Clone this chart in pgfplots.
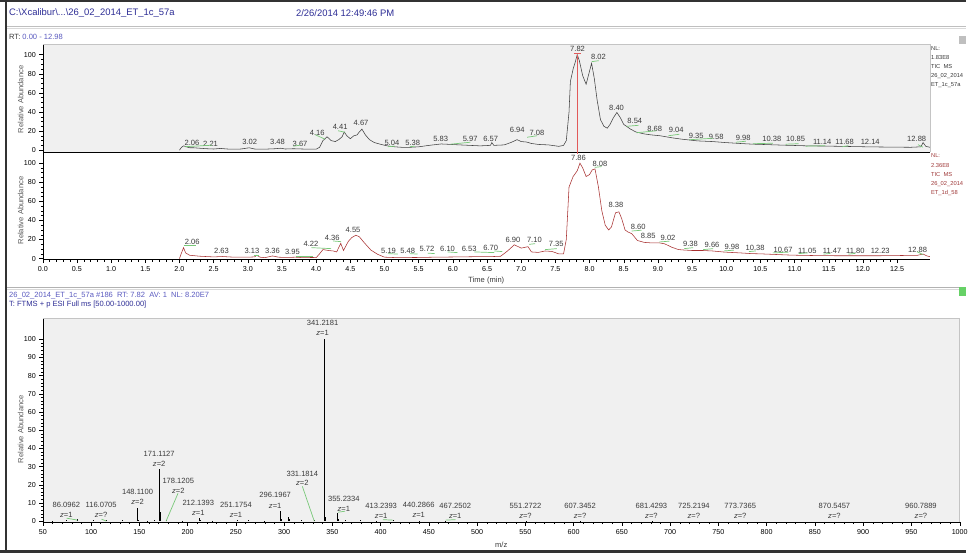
\documentclass[border=0pt]{standalone}
\usepackage{fontspec}
\setmainfont{Liberation Sans}
\usepackage{pgfplots}
\pgfplotsset{compat=1.18}
\definecolor{boxgray}{HTML}{F0F0F0}
\definecolor{boxedge}{HTML}{C4C4C4}
\definecolor{hdrblue}{HTML}{2E2E96}
\definecolor{rtblue}{HTML}{5A5AC0}
\definecolor{txtgray}{HTML}{3A3A3A}
\definecolor{ylgray}{HTML}{5A5A5A}
\definecolor{tracered}{HTML}{A83030}
\definecolor{markred}{HTML}{E25A5A}
\definecolor{lgreen}{HTML}{78C878}
\definecolor{nlred}{HTML}{A03A3A}
\newcommand\mytk{\fontsize{7.2}{8}\selectfont}
\newcommand\mylab{\fontsize{7.6}{8}\selectfont}
\newcommand\myyl{\fontsize{7.6}{8}\selectfont}
\newcommand\mynl{\fontsize{5.8}{6}\selectfont}
\newcommand\mypl[3]{\node[font=\mylab,text=txtgray,inner sep=0pt] at (axis cs:#1,#2) {#3};}
\newcommand\myspl[5]{\node[font=\mylab,text=txtgray,inner sep=0pt] at (axis cs:#1,#2) {#4};
  \node[font=\mylab,text=txtgray,inner sep=0pt] at (axis cs:#1,#3) {\textit{z}=#5};}
\newcommand\mygl[4]{\draw[lgreen,line width=0.7pt] (#1,-#2) -- (#3,-#4);}
\pgfplotsset{
  common/.style={anchor=south west, scale only axis, clip=false,
    axis x line*=bottom, axis y line*=left,
    axis line style={black,line width=0.5pt},
    tick style={black,line width=0.4pt},
    tick align=outside, major tick length=3.5pt, minor tick length=2pt,
    ticklabel style={font=\mytk,text=black},
    /pgf/number format/assume math mode=true,
    /pgf/number format/set thousands separator={}}
}
\begin{document}
\begin{tikzpicture}[x=1pt,y=1pt]
\fill[white] (0,0) rectangle (971,-556);
% frame
\fill[black!80] (0,0) rectangle (971,-2.5);
\fill[black!80] (5,0) rectangle (7.5,-556);
\fill[black!80] (0,-553.5) rectangle (971,-556);
\draw[black!25,line width=0.8pt] (7.5,-26.5) -- (971,-26.5);
\draw[black!15,line width=0.8pt] (7.5,-28.5) -- (971,-28.5);
\draw[black!30,line width=0.8pt] (7.5,-288.5) -- (971,-288.5);
\draw[black!15,line width=0.8pt] (7.5,-291) -- (971,-291);
\fill[black!25] (964,-36) rectangle (971,-44);
\fill[green!70!black!60] (964,-289) rectangle (971,-298);
% header texts
\node[anchor=west,font=\fontsize{9.5}{10}\selectfont,text=hdrblue,inner sep=0pt] at (9,-13) {C:\textbackslash Xcalibur\textbackslash ...\textbackslash 26\_02\_2014\_ET\_1c\_57a};
\node[anchor=west,font=\fontsize{9.5}{10}\selectfont,text=hdrblue,inner sep=0pt] at (297.5,-13) {2/26/2014 12:49:46 PM};
\node[anchor=west,font=\fontsize{7.6}{8}\selectfont,inner sep=0pt] at (9,-37) {\textcolor{txtgray}{RT:} \textcolor{rtblue}{0.00 - 12.98}};
\node[anchor=west,font=\fontsize{7.6}{8}\selectfont,text=rtblue,inner sep=0pt] at (9,-297.5) {26\_02\_2014\_ET\_1c\_57a \#186\ \ RT: 7.82\ \ AV: 1\ \ NL: 8.20E7};
\node[anchor=west,font=\fontsize{7.6}{8}\selectfont,text=hdrblue,inner sep=0pt] at (9,-306.5) {T: FTMS + p ESI Full ms [50.00-1000.00]};
% y labels
\node[rotate=90,font=\myyl,text=ylgray,inner sep=0pt] at (20.7,-100) {Relative Abundance};
\node[rotate=90,font=\myyl,text=ylgray,inner sep=0pt] at (20.7,-211.7) {Relative Abundance};
\node[rotate=90,font=\myyl,text=ylgray,inner sep=0pt] at (20.7,-431.7) {Relative Abundance};
\node[font=\myyl,text=txtgray,inner sep=0pt] at (489,-282) {Time (min)};
\node[font=\myyl,text=txtgray,inner sep=0pt] at (504,-548) {m/z};
% NL texts
\foreach \t [count=\i] in {NL:,1.83E8,TIC\ \ MS,26\_02\_2014,ET\_1c\_57a}
  \node[anchor=west,font=\mynl,text=txtgray,inner sep=0pt] at (936,-48.3-9.35*\i+9.35) {\t};
\foreach \t [count=\i] in {NL:,2.36E8,TIC\ \ MS,26\_02\_2014,ET\_1d\_58}
  \node[anchor=west,font=\mynl,text=nlred,inner sep=0pt] at (936,-156.7-9.35*\i+9.35) {\t};

% ---------------- top chromatogram
\begin{axis}[common, at={(43pt,-152.9pt)}, width=892pt, height=107.9pt,
  xmin=0, xmax=12.98, ymin=-2, ymax=110.4,
  axis background/.style={fill=boxgray},
  xtick=\empty, ytick={0,20,...,100}, minor y tick num=3]
\draw[boxedge,line width=0.6pt] (rel axis cs:0,1) -- (rel axis cs:1,1) -- (rel axis cs:1,0);
\addplot[black!75,line width=0.55pt] coordinates {
(2.00,0)(2.03,3)(2.06,4.5)(2.10,3.5)(2.15,2.5)(2.21,2.5)(2.30,2)(2.40,1.5)(2.50,1.2)
(2.60,1.8)(2.70,1.2)(2.80,1)(2.90,1.2)(3.02,2.5)(3.10,1.2)(3.20,1)(3.30,1.2)(3.40,1.5)
(3.48,2)(3.55,1.2)(3.67,1.5)(3.80,1.2)(3.90,1)(4.00,1)(4.05,3)(4.10,10)(4.16,14)
(4.22,10)(4.28,9)(4.33,11)(4.38,14)(4.41,19)(4.45,15)(4.50,12)(4.55,15)(4.60,16)
(4.63,19)(4.67,22)(4.72,16)(4.78,11)(4.85,8)(4.95,6)(5.04,4.5)(5.15,3.5)(5.25,3)
(5.38,3)(5.50,3.5)(5.65,5)(5.83,6.5)(5.97,6)(6.10,5.5)(6.25,5)(6.40,4.5)(6.55,5)
(6.57,8)(6.60,5)(6.75,5.5)(6.85,8)(6.94,11)(7.00,9)(7.08,8.5)(7.15,7)(7.25,6)
(7.40,5.5)(7.55,4)(7.62,5)(7.66,10)(7.70,40)(7.72,72)(7.76,85)(7.79,92)(7.82,100)
(7.85,94)(7.90,78)(7.95,69)(7.99,80)(8.03,91)(8.07,75)(8.11,53)(8.16,32)(8.21,25)
(8.26,23)(8.30,27)(8.35,34)(8.40,39.5)(8.45,34)(8.50,27)(8.54,25)(8.60,22)(8.68,19)
(8.80,17)(8.90,16)(9.04,15)(9.20,13)(9.35,11.5)(9.58,9.7)(9.80,9)(9.98,8)(10.20,7)
(10.38,6.3)(10.60,5.8)(10.85,5.2)(11.14,4.6)(11.40,4.3)(11.68,4)(11.90,3.7)(12.14,3.4)
(12.40,3.2)(12.70,3)(12.85,3.5)(12.88,8)(12.92,4)(12.98,3)};
\draw[markred,line width=0.7pt] (axis cs:7.82,100) -- (axis cs:7.82,-4.5);
\draw[markred,line width=0.9pt] (axis cs:7.77,101) -- (axis cs:7.87,101);
\mypl{2.183}{8.0}{2.06}\mypl{2.455}{6.25}{2.21}\mypl{3.027}{8.3}{3.02}\mypl{3.434}{8.3}{3.48}
\mypl{3.765}{6.25}{3.67}\mypl{4.016}{18.4}{4.16}\mypl{4.351}{24.7}{4.41}\mypl{4.657}{28.1}{4.67}
\mypl{5.108}{8.0}{5.04}\mypl{5.413}{7.3}{5.38}\mypl{5.821}{12.2}{5.83}\mypl{6.253}{11.5}{5.97}
\mypl{6.553}{12.2}{6.57}\mypl{6.941}{21.1}{6.94}\mypl{7.232}{18.4}{7.08}\mypl{7.825}{105.9}{7.82}
\mypl{8.130}{97.2}{8.02}\mypl{8.396}{44.5}{8.40}\mypl{8.663}{30.5}{8.54}\mypl{8.954}{22.6}{8.68}
\mypl{9.269}{20.8}{9.04}\mypl{9.560}{14.9}{9.35}\mypl{9.852}{14.3}{9.58}\mypl{10.249}{13.2}{9.98}
\mypl{10.667}{12.2}{10.38}\mypl{11.016}{11.5}{10.85}\mypl{11.404}{8.6}{11.14}\mypl{11.733}{8.6}{11.68}
\mypl{12.107}{8.6}{12.14}\mypl{12.787}{11.5}{12.88}
\end{axis}

% ---------------- middle chromatogram
\begin{axis}[common, at={(43pt,-261pt)}, width=892pt, height=107.96pt,
  xmin=0, xmax=12.98, ymin=-1, ymax=111.46,
  xtick={0,0.5,...,12.5}, minor x tick num=4,
  xticklabel={\pgfmathprintnumber[fixed,fixed zerofill,precision=1]{\tick}},
  ytick={0,20,...,100}, minor y tick num=3]
\addplot[tracered,line width=0.55pt] coordinates {
(2.00,0)(2.03,6)(2.06,11.5)(2.09,6)(2.15,3.5)(2.30,2.5)(2.50,1.8)(2.63,2.2)(2.80,1.5)
(3.00,1.5)(3.10,1.8)(3.13,3.5)(3.18,1.5)(3.25,1)(3.36,2.8)(3.45,1.5)(3.55,1.2)(3.70,1.5)
(3.80,1)(3.95,1.2)(4.00,1)(4.05,5)(4.10,9.5)(4.18,8.5)(4.25,8)(4.30,7)(4.36,16)(4.40,8.5)
(4.47,18)(4.52,22)(4.58,24.5)(4.63,23)(4.70,17)(4.80,9)(4.90,4.5)(5.00,1.5)(5.19,1)
(5.48,1.2)(5.72,1.5)(6.10,1.8)(6.30,2)(6.53,2)(6.70,2.5)(6.80,8)(6.90,14.5)(7.00,11)
(7.10,12.5)(7.15,7)(7.25,6.5)(7.35,8)(7.45,7.5)(7.55,5)(7.62,5)(7.66,20)(7.70,75)
(7.76,86)(7.82,92)(7.86,100)(7.90,95)(7.95,86)(8.00,88)(8.04,93)(8.08,94)(8.13,75)
(8.18,50)(8.23,35)(8.28,30)(8.32,33)(8.38,48)(8.43,49)(8.47,42)(8.52,30)(8.56,28)
(8.62,26)(8.70,19)(8.80,17)(8.90,16.5)(9.02,16.5)(9.10,15.5)(9.20,12)(9.30,9.5)
(9.38,9)(9.50,8.5)(9.66,8.5)(9.80,8)(9.98,6.8)(10.20,6)(10.38,5.2)(10.50,5)(10.67,4.5)
(10.90,3.8)(11.05,3.5)(11.30,3.2)(11.47,3.2)(11.60,3)(11.80,3)(12.00,3)(12.23,3)
(12.50,3.2)(12.80,3.5)(12.88,4.8)(12.93,3)(12.98,2)};
\mypl{2.187}{17.4}{2.06}\mypl{2.615}{8.0}{2.63}\mypl{3.060}{8.0}{3.13}\mypl{3.361}{8.0}{3.36}
\mypl{3.652}{7.0}{3.95}\mypl{3.925}{15.6}{4.22}\mypl{4.235}{21.9}{4.36}\mypl{4.540}{30.2}{4.55}
\mypl{5.060}{8.6}{5.19}\mypl{5.340}{8.6}{5.48}\mypl{5.621}{10.4}{5.72}\mypl{5.923}{10.4}{6.10}
\mypl{6.238}{10.4}{6.53}\mypl{6.553}{11.5}{6.70}\mypl{6.879}{20.1}{6.90}\mypl{7.193}{19.1}{7.10}
\mypl{7.513}{15.6}{7.35}\mypl{7.839}{105.9}{7.86}\mypl{8.153}{99.7}{8.08}\mypl{8.386}{56.3}{8.38}
\mypl{8.712}{33.6}{8.60}\mypl{8.858}{24.3}{8.85}\mypl{9.149}{21.6}{9.02}\mypl{9.478}{15.6}{9.38}
\mypl{9.793}{14.6}{9.66}\mypl{10.084}{12.2}{9.98}\mypl{10.423}{11.5}{10.38}\mypl{10.831}{9.4}{10.67}
\mypl{11.186}{8.6}{11.05}\mypl{11.550}{8.6}{11.47}\mypl{11.889}{8.6}{11.80}\mypl{12.253}{8.6}{12.23}
\mypl{12.801}{9.4}{12.88}
\end{axis}

% ---------------- spectrum
\begin{axis}[common, at={(43pt,-525.1pt)}, width=922pt, height=205.1pt,
  xmin=50, xmax=1000, ymin=-0.6, ymax=111.5,
  axis background/.style={fill=boxgray},
  xtick={50,100,...,1000}, minor x tick num=4,
  ytick={0,10,...,100}, minor y tick num=4]
\draw[boxedge,line width=0.6pt] (rel axis cs:0,1) -- (rel axis cs:1,1) -- (rel axis cs:1,0);
\addplot[ycomb,black,line width=0.7pt,mark=none] coordinates {
(60.1,0.3)(74.1,0.4)(86.0962,1.0)(102.1,0.4)(116.0705,0.6)(132.1,0.8)(148.11,7.3)(149.1,0.8)
(158.1,0.3)(165.1,0.6)(171.1127,28.6)(171.61,5)(172.1,1)(178.12,0.5)(195.1,0.3)(212.1393,1.8)
(213.1,0.4)(226.2,0.3)(251.1754,0.5)(263.2,0.6)(279.2,0.3)(296.1967,5.7)(297.2,1)(304.2,2.5)
(305.2,1.2)(318.2,0.4)(331.18,0.5)(341.2181,100)(341.72,50)(342.22,18)(343.2,2.5)
(355.2334,4.4)(356.24,1)(363.2,0.4)(379.2,0.6)(395.2,0.3)(413.24,0.4)(440.29,0.3)
(467.25,0.3)(551.27,0.2)(607.35,0.2)(681.43,0.2)};
\myspl{74.4}{8.9}{3.4}{86.0962}{1}
\myspl{110.5}{8.9}{3.4}{116.0705}{?}
\myspl{148.2}{15.8}{10.4}{148.1100}{2}
\myspl{170.6}{36.8}{31.3}{171.1127}{2}
\myspl{190.4}{21.9}{16.4}{178.1205}{2}
\myspl{211.1}{10.0}{4.4}{212.1393}{1}
\myspl{250.2}{8.9}{3.4}{251.1754}{1}
\myspl{290.8}{14.4}{8.2}{296.1967}{1}
\myspl{318.9}{26.2}{20.8}{331.1814}{2}
\myspl{339.9}{109.1}{103.3}{341.2181}{1}
\myspl{361.9}{12.2}{6.7}{355.2334}{1}
\myspl{400.6}{8.2}{2.7}{413.2393}{1}
\myspl{439.5}{8.9}{3.4}{440.2866}{1}
\myspl{477.3}{8.2}{3.1}{467.2502}{1}
\myspl{550.1}{8.2}{3.1}{551.2722}{?}
\myspl{606.7}{8.2}{3.1}{607.3452}{?}
\myspl{680.6}{8.2}{3.1}{681.4293}{?}
\myspl{724.6}{8.2}{3.1}{725.2194}{?}
\myspl{772.6}{8.2}{3.1}{773.7365}{?}
\myspl{870.2}{8.2}{3.1}{870.5457}{?}
\myspl{959.8}{8.2}{3.1}{960.7889}{?}
\end{axis}

% green leader lines (top)
\mygl{186}{147.5}{213}{146}\mygl{295}{147}{302}{146}\mygl{317}{135.5}{327}{140}
\mygl{340}{131.5}{347}{133}\mygl{390}{147.5}{397}{147}\mygl{412}{147.5}{417}{147}
\mygl{453}{145}{473}{143}\mygl{530}{138}{540}{136.5}\mygl{595}{62}{602}{61}
\mygl{630}{127}{642}{126}\mygl{640}{133.5}{660}{131.5}\mygl{672}{136.5}{683}{135}
\mygl{693}{140.5}{717}{139}\mygl{740}{143}{750}{142}\mygl{757}{144.5}{777}{144}
\mygl{790}{145}{803}{144.5}\mygl{810}{147}{830}{146.5}\mygl{847}{147.5}{853}{146.5}
\mygl{923}{145.5}{928}{148}
% green leader lines (middle)
\mygl{185}{246.7}{197}{246.7}\mygl{255}{256.7}{260}{256.7}\mygl{298}{257.7}{315}{257.7}
\mygl{313}{249}{333}{250}\mygl{335}{242.3}{343}{243}\mygl{390}{255}{400}{255.5}
\mygl{412}{255}{420}{255.5}\mygl{430}{254.5}{437}{255}\mygl{450}{253.3}{460}{254}
\mygl{477}{253.3}{497}{254}\mygl{497}{252.3}{505}{253}\mygl{532}{245.7}{538}{245}
\mygl{548}{251}{560}{250}\mygl{598}{168.3}{605}{167.5}\mygl{635}{232.3}{645}{231.5}
\mygl{663}{243.3}{673}{242.5}\mygl{688}{250}{697}{249}\mygl{707}{251}{717}{250}
\mygl{728}{252.3}{738}{251.5}\mygl{753}{253}{760}{252.3}\mygl{777}{254.3}{793}{253.5}
\mygl{803}{255}{812}{254.3}\mygl{828}{255.5}{835}{254.8}\mygl{853}{255.5}{860}{254.8}
\mygl{922}{253}{928}{256}
% green leader lines (spectrum)
\mygl{67}{521}{78}{523}\mygl{102}{522}{107}{524}\mygl{179}{496}{167}{524}
\mygl{304}{489}{316}{524}\mygl{340}{515}{347}{514}\mygl{385}{522.5}{395}{523}
\mygl{448}{523}{458}{522.5}
\end{tikzpicture}
\end{document}
